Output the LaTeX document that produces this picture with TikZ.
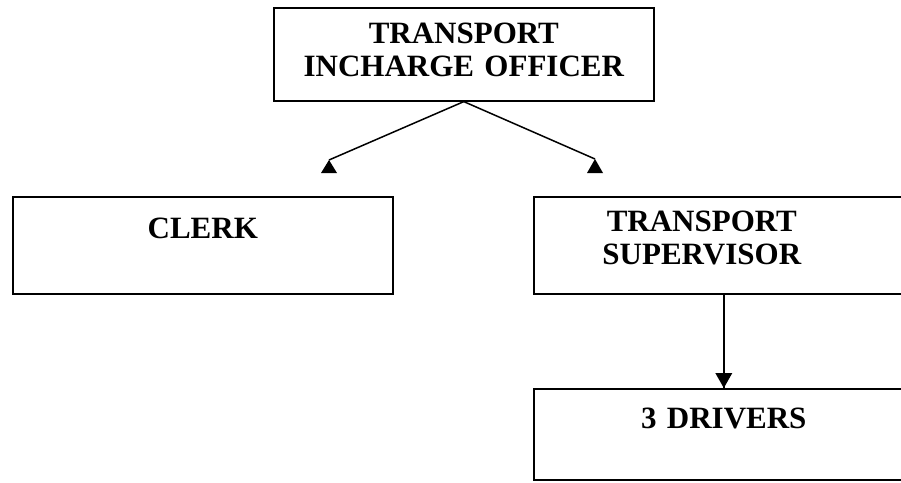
\documentclass[tikz,border=0pt]{standalone}
\usepackage{fontspec}
\setmainfont{Liberation Serif}
\begin{document}
\begin{tikzpicture}[x=1pt,y=-1pt,
  box/.style={draw, line width=1.6pt, anchor=north west, inner sep=0pt,
    text width=380pt, minimum width=380pt, align=center,
    font=\fontsize{31}{33}\selectfont\bfseries},
  link/.style={line width=1.5pt},
  tipfill/.style={fill=black}]
\useasboundingbox (0,0) rectangle (901,482);
\clip (0,0) rectangle (901,482);

% boxes
\node[box, text height=36pt, text depth=57pt] (tio) at (273,7) {TRANSPORT\\INCHARGE OFFICER};
\node[box, text height=42pt, text depth=55pt] (clerk) at (12,196) {CLERK};
\node[box, text height=35pt, text depth=62pt] (sup) at (533,196)
  {\hspace*{-44pt}TRANSPORT\\\hspace*{-44pt}SUPERVISOR};
\node[box, text height=40pt, text depth=51pt] (drv) at (533,388) {3 DRIVERS};

% arrow ends
\coordinate (tipL) at (329,160);
\coordinate (tipR) at (595,159);

% connectors
\draw[link] (tio.south) -- (tipL);
\fill[tipfill] (tipL) -- ++(-8,13) -- ++(16,0) -- cycle;
\draw[link] (tio.south) -- (tipR);
\fill[tipfill] (tipR) -- ++(-8,14) -- ++(16,0) -- cycle;
\draw[link] (sup.south) -- (drv.north);
\fill[tipfill] (drv.north) -- ++(-8.5,-15) -- ++(17,0) -- cycle;
\end{tikzpicture}
\end{document}
